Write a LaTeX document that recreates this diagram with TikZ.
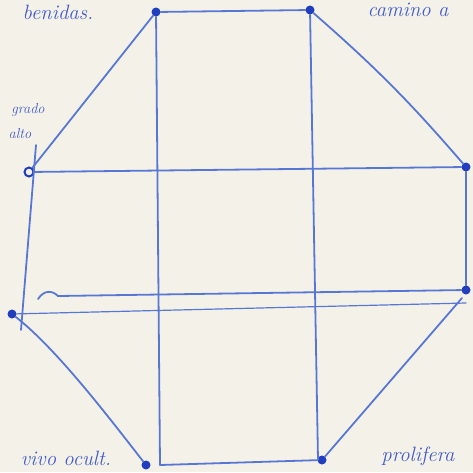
\documentclass[tikz,border=0pt]{standalone}
\usepackage{tikz}
\usetikzlibrary{positioning}
\definecolor{ink}{RGB}{88,118,212}
\definecolor{inkdark}{RGB}{32,62,190}
\definecolor{paper}{RGB}{244,242,232}

\begin{document}
\begin{tikzpicture}[x=1pt,y=-1pt]
\tikzset{dot/.style={circle,fill=inkdark,inner sep=0pt,minimum size=9pt},
  edge/.style={draw=ink,line width=1.8pt,line cap=round},
  note/.style={text=inkdark!85,font=\itshape\huge,inner sep=0pt}}
\fill[paper] (0,0) rectangle (473,472);
\useasboundingbox (0,0) rectangle (473,472);
\node[dot] (a) at (156,12) {};
\node[dot] (b) at (310,10) {};
\node[dot] (c) at (466,167) {};
\node[dot] (d) at (466,290) {};
\node[dot] (e) at (322,460) {};
\node[dot] (f) at (146,465) {};
\node[dot] (g) at (12,314) {};
\node[draw=inkdark,circle,line width=2pt,inner sep=0pt,minimum size=9pt] (h) at (29,172) {};
\coordinate (vl) at (36,145);
\coordinate (vlb) at (21,330);
\coordinate (a2) at (160,465);
\coordinate (b2) at (318,460);
\coordinate (k) at (38,299);
\coordinate (d2) at (466,303);
\coordinate (dd) at (462,298);
\draw[edge] (a) -- (b);
\draw[edge] (a) -- (h);
\draw[edge] (b) to[bend left=4] (c);
\draw[edge] (h) -- (c);
\draw[edge] (c) -- (d);
\draw[edge] (dd) -- (e);
\draw[edge] (e) -- (a2);
\draw[edge] (g) to[out=-38,in=128,looseness=0.7] (f);
\draw[edge] (vl) -- (vlb);
\draw[edge] (a) -- (a2);
\draw[edge] (b) -- (b2);
\draw[edge] (k) .. controls (44,290) and (52,290) .. (58,296) -- (d);
\draw[edge,line width=1.2pt] (g) -- (d2);
\node[note] (t1) at (58,12) {benidas.};
\node[note] (t2) at (408,10) {camino a};
\node[note,font=\itshape\Large] (t3) at (28,110) {grado};
\node[note,font=\itshape\Large] (t4) at (20,134) {alto};
\node[note] (t5) at (66,458) {vivo ocult.};
\node[note] (t6) at (418,456) {prolifera};
\end{tikzpicture}
\end{document}
